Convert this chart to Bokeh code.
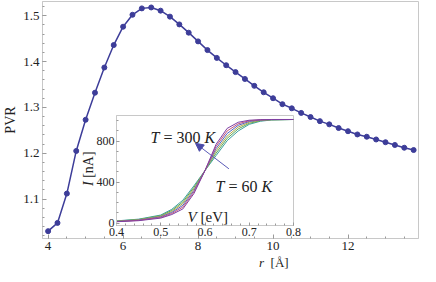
from bokeh.plotting import figure
from bokeh.models import Label, Arrow, NormalHead, SingleIntervalTicker, Div
from bokeh.embed import file_html
from bokeh.resources import INLINE

# ---------------- data ----------------
r_vals = [4.0, 4.25, 4.5, 4.75, 5.0, 5.25, 5.5, 5.75, 6.0, 6.25,
          6.5, 6.75, 7.0, 7.25, 7.5, 7.75, 8.0, 8.25, 8.5, 8.75,
          9.0, 9.25, 9.5, 9.75, 10.0, 10.25, 10.5, 10.75, 11.0, 11.25,
          11.5, 11.75, 12.0, 12.25, 12.5, 12.75, 13.0, 13.25, 13.5, 13.75]
pvr_vals = [1.030, 1.048, 1.112, 1.205, 1.273, 1.332, 1.387, 1.436, 1.476, 1.502,
            1.516, 1.518, 1.511, 1.498, 1.481, 1.463, 1.444, 1.425, 1.408, 1.392,
            1.377, 1.362, 1.347, 1.333, 1.320, 1.307, 1.298, 1.288, 1.279, 1.270,
            1.263, 1.255, 1.248, 1.241, 1.236, 1.230, 1.224, 1.218, 1.212, 1.207]

v_vals = [0.40, 0.45, 0.50, 0.525, 0.55, 0.575, 0.60, 0.625, 0.65, 0.675, 0.70, 0.725, 0.75, 0.80]
i_60K  = [23, 40, 80, 136, 225, 365, 514, 660, 805, 900, 965, 995, 1007, 1012]
i_108K = [21, 36, 74, 125, 208, 350, 514, 683, 828, 920, 975, 1000, 1009, 1012]
i_156K = [19, 33, 68, 115, 192, 335, 514, 706, 850, 938, 985, 1004, 1010, 1012]
i_204K = [17, 30, 62, 105, 175, 320, 514, 728, 875, 955, 993, 1007, 1011, 1012]
i_252K = [16, 28, 56, 95, 158, 305, 514, 750, 900, 970, 1000, 1009, 1012, 1012]
i_300K = [15, 25, 50, 85, 140, 290, 514, 770, 925, 985, 1005, 1010, 1012, 1012]
curve_colors = ["#3f9f9f", "#5aa85a", "#b3a74a", "#4f63c4", "#c4567a", "#7d3fa3"]

x_ticks_interval = 2
y_ticks_interval = 0.1

SERIF = "Liberation Serif"
MAIN_COLOR = "#3d3d99"
FRAME = "#c8c8c8"
TICK = "#9a9a9a"
TXT = "#222222"

# ---------------- main figure ----------------
p = figure(width=420, height=266, x_range=(3.85, 13.88), y_range=(1.014, 1.531),
           output_backend="svg", toolbar_location=None,
           min_border_left=30, min_border_right=2, min_border_top=1, min_border_bottom=28)
p.grid.visible = False
p.outline_line_color = FRAME
p.background_fill_color = "white"
p.border_fill_color = "white"

p.xaxis.ticker = SingleIntervalTicker(interval=x_ticks_interval, num_minor_ticks=4)
p.yaxis.ticker = SingleIntervalTicker(interval=y_ticks_interval, num_minor_ticks=5)
for ax in (p.xaxis, p.yaxis):
    ax.axis_line_color = FRAME
    ax.major_tick_line_color = TICK
    ax.minor_tick_line_color = TICK
    ax.major_tick_in = 4
    ax.major_tick_out = 0
    ax.minor_tick_in = 2
    ax.minor_tick_out = 0
    ax.major_label_text_font = SERIF
    ax.major_label_text_font_size = "13px"
    ax.major_label_text_color = TXT
p.xaxis.major_label_standoff = 3
p.yaxis.major_label_standoff = 3
p.yaxis.axis_label = "PVR"
p.yaxis.axis_label_text_font = SERIF
p.yaxis.axis_label_text_font_style = "normal"
p.yaxis.axis_label_text_font_size = "14px"
p.yaxis.axis_label_text_color = TXT
p.yaxis.axis_label_standoff = 2

p.line(r_vals, pvr_vals, line_color=MAIN_COLOR, line_width=1.5)
p.scatter(r_vals, pvr_vals, size=5, fill_color=MAIN_COLOR, line_color=MAIN_COLOR)

# ---------------- inset figure ----------------
inset = figure(width=223, height=130, x_range=(0.4, 0.8), y_range=(-22, 1051),
               output_backend="svg", toolbar_location=None,
               min_border_left=36, min_border_right=10, min_border_top=2, min_border_bottom=18)
inset.styles = {"position": "absolute", "left": "80px", "top": "113px"}
inset.grid.visible = False
inset.outline_line_color = FRAME
inset.background_fill_color = "white"
inset.border_fill_alpha = 0.0
inset.xaxis.ticker = SingleIntervalTicker(interval=0.1, num_minor_ticks=5)
inset.yaxis.ticker = SingleIntervalTicker(interval=400, num_minor_ticks=4)
for ax in (inset.xaxis, inset.yaxis):
    ax.axis_line_color = FRAME
    ax.major_tick_line_color = TICK
    ax.minor_tick_line_color = TICK
    ax.major_tick_in = 3
    ax.major_tick_out = 0
    ax.minor_tick_in = 2
    ax.minor_tick_out = 0
    ax.major_label_text_font = SERIF
    ax.major_label_text_font_size = "12px"
    ax.major_label_text_color = TXT
    ax.major_label_standoff = 2

for ys, col in zip([i_60K, i_108K, i_156K, i_204K, i_252K, i_300K], curve_colors):
    inset.line(v_vals, ys, line_color=col, line_width=1)

inset.add_layout(Arrow(end=NormalHead(size=8, fill_color="#4a4aa8", line_color="#4a4aa8"),
                       x_start=0.654, y_start=531, x_end=0.5785, y_end=780,
                       line_color="#5a5ab8", line_width=1))

def piece(fig, x, y, txt, dx, italic, size):
    fig.add_layout(Label(x=x, y=y, x_offset=dx, text=txt, text_font=SERIF,
                         text_font_style="italic" if italic else "normal",
                         text_font_size=size, text_color=TXT, text_baseline="alphabetic"))

piece(inset, 0.4768, 836, "T", 0, True, "16px")
piece(inset, 0.4768, 836, "= 300", 12.9, False, "16px")
piece(inset, 0.4768, 836, "K", 53.9, True, "16px")

piece(inset, 0.6237, 358, "T", 0, True, "16px")
piece(inset, 0.6237, 358, "= 60", 12.9, False, "16px")
piece(inset, 0.6237, 358, "K", 45.9, True, "16px")

piece(inset, 0.5605, 60, "V", 0, True, "15px")
piece(inset, 0.5605, 60, "[eV]", 13, False, "15px")

# ---------------- axis labels with italic symbols (HTML text) ----------------
SPAN = "font-family:'Liberation Serif',serif;font-size:{}px;line-height:14px;color:#222;white-space:nowrap"
r_label = Div(text='<span style="' + SPAN.format(13) + '"><i>r</i>&nbsp; [Å]</span>',
              width=40, height=14,
              styles={"position": "absolute", "left": "259px", "top": "255px",
                      "margin": "0", "padding": "0"})
i_label = Div(text='<span style="' + SPAN.format(14) + '"><i>I</i> [nA]</span>',
              width=40, height=14,
              styles={"position": "absolute", "left": "81px", "top": "186px",
                      "margin": "0", "padding": "0",
                      "transform": "rotate(-90deg)", "transform-origin": "0 0"})

open("out.html", "w").write(file_html([p, inset, r_label, i_label], INLINE))
